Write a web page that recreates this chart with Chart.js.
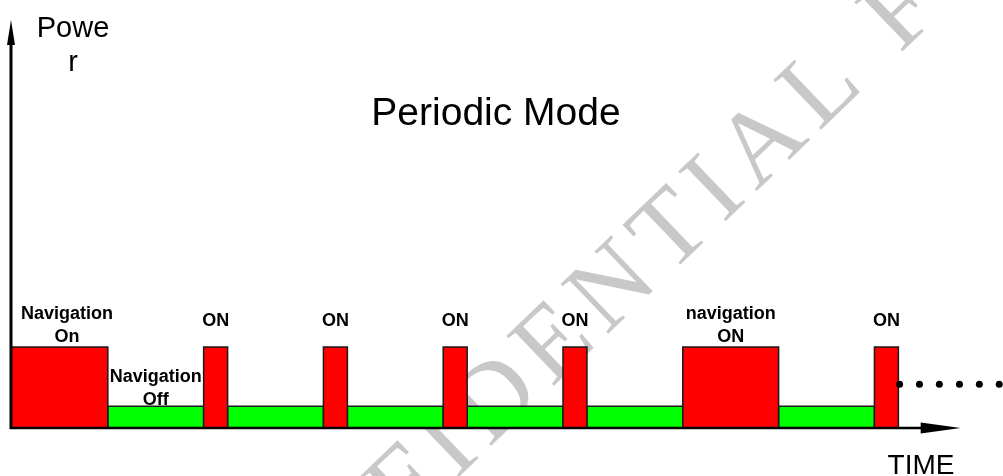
<!DOCTYPE html>
<html>
<head>
<meta charset="utf-8">
<script src="https://cdn.jsdelivr.net/npm/chart.js@4"></script>
<style>
  body { margin: 0; background: #fff; }
  #wrap { width: 1003px; height: 476px; }
</style>
</head>
<body>
<div id="wrap"><canvas id="PowerChart" width="1003" height="476"></canvas></div>
<script>
// Datos del diagrama (tiempo en unidades arbitrarias, potencia relativa)
const segStart = [0, 4, 8, 9, 13, 14, 18, 19, 23, 24, 28, 32, 36];
const segEnd   = [4, 8, 9, 13, 14, 18, 19, 23, 24, 28, 32, 36, 37];
const segState = ['on', 'off', 'on', 'off', 'on', 'off', 'on', 'off', 'on', 'off', 'on', 'off', 'on'];
const segLabels = [
    ['Navigation', 'On'], ['Navigation', 'Off'], ['ON'], null, ['ON'], null,
    ['ON'], null, ['ON'], null, ['navigation', 'ON'], null, ['ON']
];
const onLevel = 1;
const offLevel = 0.27;
const dotTimes = [37.05, 37.88, 38.71, 39.55, 40.38, 41.21];
const dotLevel = 0.54;
const axisEnd = 39.6;

// puntos escalonados para cada color
function steps(state, level) {
    var pts = [];
    for (var i = 0; i < segStart.length; i++) {
        pts.push({ x: segStart[i], y: segState[i] === state ? level : 0 });
    }
    pts.push({ x: segEnd[segEnd.length - 1], y: 0 });
    return pts;
}

var FONT = '"Liberation Sans", Arial, sans-serif';

var decoPlugin = {
    id: 'deco',
    beforeDatasetsDraw: function(chart) {
        var ctx = chart.ctx;
        var x = chart.scales.x, y = chart.scales.y;
        // marca de agua
        ctx.save();
        ctx.translate(222, 704);
        ctx.rotate(-43.8 * Math.PI / 180);
        ctx.fillStyle = '#c8c8c8';
        ctx.font = '105px "Liberation Serif", "Times New Roman", serif';
        ctx.letterSpacing = '11px';
        ctx.textBaseline = 'alphabetic';
        ctx.fillText('CONFIDENTIAL FOR', 0, 0);
        ctx.restore();

        // textos
        ctx.save();
        ctx.fillStyle = '#000';
        ctx.textAlign = 'center';
        ctx.textBaseline = 'alphabetic';
        ctx.font = '39px ' + FONT;
        ctx.fillText('Periodic Mode', 496, 125);
        ctx.font = '29px ' + FONT;
        ctx.fillText('Powe', 73, 37);
        ctx.fillText('r', 73, 71);
        ctx.font = '28px ' + FONT;
        ctx.fillText('TIME', 921, 474);

        ctx.font = 'bold 18px ' + FONT;
        for (var i = 0; i < segLabels.length; i++) {
            var lines = segLabels[i];
            if (!lines) continue;
            var cx = x.getPixelForValue((segStart[i] + segEnd[i]) / 2);
            if (i === 0) cx += 7;
            var level = segState[i] === 'on' ? onLevel : offLevel;
            var top = y.getPixelForValue(level);
            var base;
            if (lines.length === 1) base = top - 21;
            else base = segState[i] === 'on' ? top - 5 : top - 1;
            for (var j = lines.length - 1; j >= 0; j--) {
                ctx.fillText(lines[j], cx, base - (lines.length - 1 - j) * 23);
            }
        }
        ctx.restore();
    },
    afterDatasetsDraw: function(chart) {
        var ctx = chart.ctx;
        var x = chart.scales.x, y = chart.scales.y;
        var x0 = x.getPixelForValue(0) - 1;
        var y0 = y.getPixelForValue(0);
        var xTip = x.getPixelForValue(axisEnd);
        var yTip = 20;
        ctx.save();
        ctx.strokeStyle = '#000';
        ctx.fillStyle = '#000';
        ctx.lineWidth = 3;
        ctx.beginPath();
        ctx.moveTo(x0, y0 + 1);
        ctx.lineTo(x0, yTip + 20);
        ctx.stroke();
        ctx.lineWidth = 2.5;
        ctx.beginPath();
        ctx.moveTo(x0 - 1, y0);
        ctx.lineTo(xTip - 35, y0);
        ctx.stroke();
        // flechas
        ctx.beginPath();
        ctx.moveTo(x0, yTip);
        ctx.lineTo(x0 - 4, yTip + 25);
        ctx.lineTo(x0 + 4, yTip + 25);
        ctx.closePath();
        ctx.fill();
        ctx.beginPath();
        ctx.moveTo(xTip, y0);
        ctx.lineTo(xTip - 40, y0 - 5.5);
        ctx.lineTo(xTip - 40, y0 + 5.5);
        ctx.closePath();
        ctx.fill();
        ctx.restore();
    }
};

var ctx = document.getElementById('PowerChart').getContext('2d');
var PowerChart = new Chart(ctx, {
    type: 'line',
    data: {
        datasets: [{
            label: 'continuación',
            data: dotTimes.map(function(t) { return { x: t, y: dotLevel }; }),
            showLine: false,
            pointRadius: 3.5,
            pointBackgroundColor: '#000',
            pointBorderWidth: 0,
            clip: false,
            order: 0
        }, {
            label: 'ON',
            data: steps('on', onLevel),
            stepped: 'before',
            fill: 'origin',
            backgroundColor: '#ff0000',
            borderColor: '#1a1a1a',
            borderWidth: 1.5,
            pointRadius: 0,
            clip: false,
            order: 1
        }, {
            label: 'OFF',
            data: steps('off', offLevel),
            stepped: 'before',
            fill: 'origin',
            backgroundColor: '#00ff00',
            borderColor: '#1a1a1a',
            borderWidth: 1.5,
            pointRadius: 0,
            clip: false,
            order: 2
        }]
    },
    options: {
        responsive: false,
        animation: false,
        events: [],
        layout: { padding: { left: 12, right: 0, top: 23, bottom: 48 } },
        plugins: {
            legend: { display: false },
            tooltip: { enabled: false }
        },
        scales: {
            x: { type: 'linear', min: 0, max: 41.2, display: false },
            y: { min: 0, max: 5, display: false }
        }
    },
    plugins: [decoPlugin]
});
</script>
</body>
</html>
